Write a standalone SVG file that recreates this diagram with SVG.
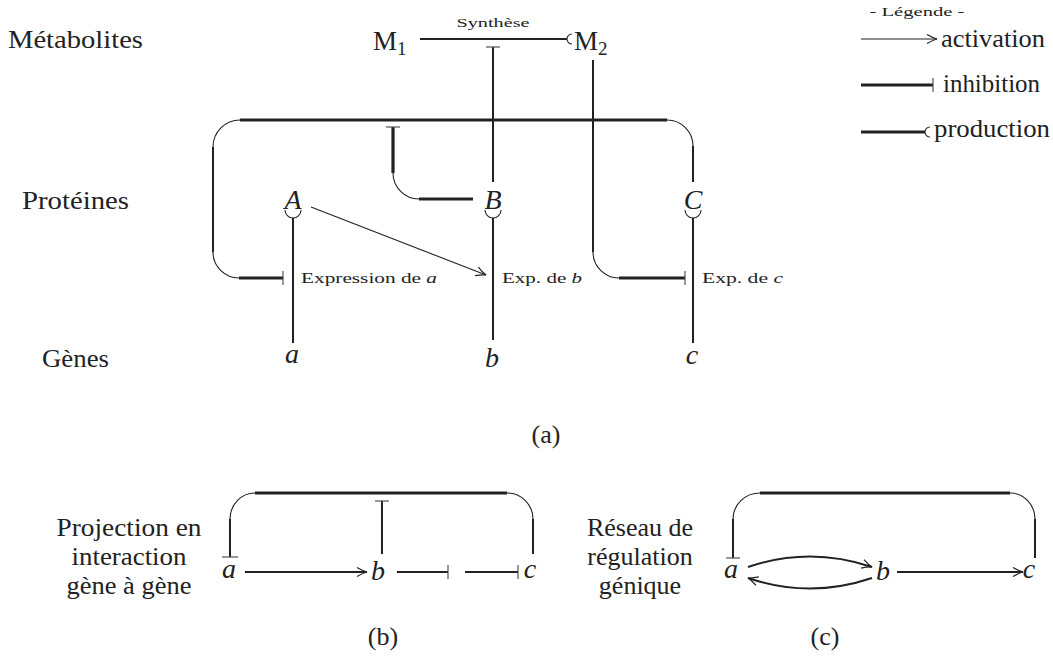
<svg xmlns="http://www.w3.org/2000/svg" width="1053" height="664" viewBox="0 0 1053 664" font-family="'Liberation Serif', 'Times New Roman', serif">
<defs>
<style>
text{font-family:'Liberation Serif','Times New Roman',Times,serif;fill:#222}
.big{font-size:26px}
.sm{font-size:13px}
.med{font-size:14px}
.it{font-style:italic}
.var{font-size:28px;font-style:italic;text-anchor:middle}
.c{text-anchor:middle}
.thin{stroke:#222;stroke-width:1.1;fill:none}
.mid{stroke:#222;stroke-width:2;fill:none}
.thick{stroke:#222;stroke-width:3.2;fill:none}
.bar{stroke:#444;stroke-width:1.1;fill:none}
</style>
<marker id="arr" viewBox="-11 -6 12 12" refX="0" refY="0" markerWidth="12" markerHeight="12" markerUnits="userSpaceOnUse" orient="auto">
<path d="M-10,-4.5 Q-4,-1 0,0 Q-4,1 -10,4.5" fill="none" stroke="#222" stroke-width="1.2"/>
</marker>
</defs>
<rect width="1053" height="664" fill="#fff"/>

<g id="row-labels">
<text class="big" x="8" y="48" textLength="135" lengthAdjust="spacingAndGlyphs">Métabolites</text>
<text class="big" x="22" y="209" textLength="107" lengthAdjust="spacingAndGlyphs">Protéines</text>
<text class="big" x="42" y="367" textLength="67" lengthAdjust="spacingAndGlyphs">Gènes</text>
</g>

<g id="M1"><text x="373" y="50" font-size="27">M<tspan font-size="19" dy="5">1</tspan></text></g>
<g id="M2"><text x="574" y="50" font-size="27">M<tspan font-size="19" dy="5">2</tspan></text></g>
<g id="A"><text class="var" x="293" y="209">A</text></g>
<g id="B"><text class="var" x="493" y="209">B</text></g>
<g id="C"><text class="var" x="693" y="209">C</text></g>
<g id="gene-a"><text class="var" x="292" y="363">a</text></g>
<g id="gene-b"><text class="var" x="492" y="367">b</text></g>
<g id="gene-c"><text class="var" x="692" y="364">c</text></g>

<g id="edge-labels">
<text class="sm c" x="493" y="27" textLength="73" lengthAdjust="spacingAndGlyphs">Synthèse</text>
<text class="med" x="301" y="283" textLength="136" lengthAdjust="spacingAndGlyphs">Expression de <tspan class="it">a</tspan></text>
<text class="med" x="502" y="283" textLength="80" lengthAdjust="spacingAndGlyphs">Exp. de <tspan class="it">b</tspan></text>
<text class="med" x="702" y="283" textLength="81" lengthAdjust="spacingAndGlyphs">Exp. de <tspan class="it">c</tspan></text>
</g>

<g id="caption-a"><text class="big c" x="546" y="443">(a)</text></g>

<g id="legend">
<text class="sm c" x="917" y="16" textLength="95" lengthAdjust="spacingAndGlyphs">- Légende -</text>
<text class="big" x="941" y="47" textLength="104" lengthAdjust="spacingAndGlyphs">activation</text>
<text class="big" x="943" y="92" textLength="97" lengthAdjust="spacingAndGlyphs">inhibition</text>
<text class="big" x="934" y="137" textLength="116" lengthAdjust="spacingAndGlyphs">production</text>
</g>

<g id="connectors">
<!-- legend -->
<line class="thin" x1="861" y1="39" x2="937" y2="39" stroke-width="1.4" marker-end="url(#arr)"/>
<line class="thick" x1="861" y1="85" x2="933" y2="85"/>
<line class="bar" x1="933" y1="78" x2="933" y2="92"/>
<line class="thick" x1="861" y1="132" x2="925" y2="132"/>
<path class="thin" d="M930,127 A5,5 0 0 0 930,137"/>

<!-- synthesis M1 -> M2 -->
<line class="mid" x1="420" y1="39" x2="567" y2="39"/>
<path class="thin" d="M572,34 A5,5 0 0 0 572,44"/>
<!-- B inhibits synthesis -->
<line class="mid" x1="493" y1="182" x2="493" y2="47" stroke-width="1.6"/>
<line class="bar" x1="486" y1="47" x2="500" y2="47"/>

<!-- M2 inhibits expression of c -->
<line class="mid" x1="593" y1="60" x2="593" y2="252"/>
<path class="thin" d="M593,252 A26,26 0 0 0 619,278"/>
<line class="thick" x1="619" y1="278" x2="685" y2="278"/>
<line class="bar" x1="685" y1="271" x2="685" y2="285"/>

<!-- C inhibits expression of a (big loop) -->
<line class="mid" x1="693" y1="182" x2="693" y2="146"/>
<path class="thin" d="M693,146 A26,26 0 0 0 667,120"/>
<line class="thick" x1="667" y1="120" x2="240" y2="120"/>
<path class="thin" d="M240,120 A27,27 0 0 0 213,147"/>
<line class="mid" x1="213" y1="147" x2="213" y2="252"/>
<path class="thin" d="M213,252 A26,26 0 0 0 239,278"/>
<line class="thick" x1="239" y1="278" x2="283" y2="278"/>
<line class="bar" x1="283" y1="271" x2="283" y2="285"/>

<!-- B inhibits the C loop -->
<line class="thick" x1="473" y1="199" x2="419" y2="199"/>
<path class="thin" d="M419,199 A26,26 0 0 1 393,173"/>
<line class="thick" x1="393" y1="173" x2="393" y2="127"/>
<line class="bar" x1="386" y1="127" x2="400" y2="127"/>

<!-- A activates expression of b -->
<line class="thin" x1="311" y1="207" x2="486" y2="275" marker-end="url(#arr)"/>

<!-- genes produce proteins -->
<line class="mid" x1="293" y1="343" x2="293" y2="218"/>
<path class="thin" d="M285,210 A8,8 0 0 0 301,210"/>
<line class="mid" x1="493" y1="340" x2="493" y2="218"/>
<path class="thin" d="M485,210 A8,8 0 0 0 501,210"/>
<line class="mid" x1="693" y1="343" x2="693" y2="218"/>
<path class="thin" d="M685,210 A8,8 0 0 0 701,210"/>

<!-- panel (b) -->
<line class="thick" x1="255" y1="493" x2="507" y2="493"/>
<path class="thin" d="M255,493 A25,26 0 0 0 230,519"/>
<line class="mid" x1="230" y1="519" x2="230" y2="557"/>
<line class="bar" x1="222" y1="557" x2="238" y2="557"/>
<path class="thin" d="M507,493 A26,26 0 0 1 533,519"/>
<line class="mid" x1="533" y1="519" x2="533" y2="554"/>
<line class="mid" x1="382" y1="554" x2="382" y2="501"/>
<line class="bar" x1="375" y1="501" x2="389" y2="501"/>
<line class="mid" x1="245" y1="572" x2="367" y2="572" stroke-width="1.6" marker-end="url(#arr)"/>
<line class="mid" x1="397" y1="572" x2="448" y2="572" stroke-width="1.6"/>
<line class="bar" x1="448" y1="565" x2="448" y2="579"/>
<line class="mid" x1="465" y1="572" x2="518" y2="572" stroke-width="1.6"/>
<line class="bar" x1="518" y1="565" x2="518" y2="579"/>

<!-- panel (c) -->
<line class="thick" x1="760" y1="493" x2="1010" y2="493"/>
<path class="thin" d="M760,493 A27,26 0 0 0 733,519"/>
<line class="mid" x1="733" y1="519" x2="733" y2="558"/>
<line class="bar" x1="726" y1="558" x2="740" y2="558"/>
<path class="thin" d="M1010,493 A25,26 0 0 1 1035,519"/>
<line class="mid" x1="1035" y1="519" x2="1035" y2="558"/>
<path class="mid" d="M748,567 Q810,546 872,567" marker-end="url(#arr)"/>
<path class="mid" d="M872,578 Q810,599 748,578" marker-end="url(#arr)"/>
<line class="mid" x1="897" y1="572" x2="1023" y2="572" stroke-width="1.6" marker-end="url(#arr)"/>
</g>

<g id="panel-b-nodes">
<g id="b-a"><text class="var" x="229" y="578">a</text></g>
<g id="b-b"><text class="var" x="378" y="580">b</text></g>
<g id="b-c"><text class="var" x="530" y="578">c</text></g>
</g>
<g id="panel-c-nodes">
<g id="c-a"><text class="var" x="731" y="578">a</text></g>
<g id="c-b"><text class="var" x="883" y="580">b</text></g>
<g id="c-c"><text class="var" x="1029" y="578">c</text></g>
</g>

<g id="captions">
<text class="big c" x="129" y="536" textLength="145" lengthAdjust="spacingAndGlyphs">Projection en</text>
<text class="big c" x="129" y="565" textLength="115" lengthAdjust="spacingAndGlyphs">interaction</text>
<text class="big c" x="129" y="594" textLength="125" lengthAdjust="spacingAndGlyphs">gène à gène</text>
<text class="big c" x="640" y="536">Réseau de</text>
<text class="big c" x="640" y="565">régulation</text>
<text class="big c" x="640" y="594">génique</text>
<text class="big c" x="383" y="645">(b)</text>
<text class="big c" x="825" y="645">(c)</text>
</g>
</svg>
